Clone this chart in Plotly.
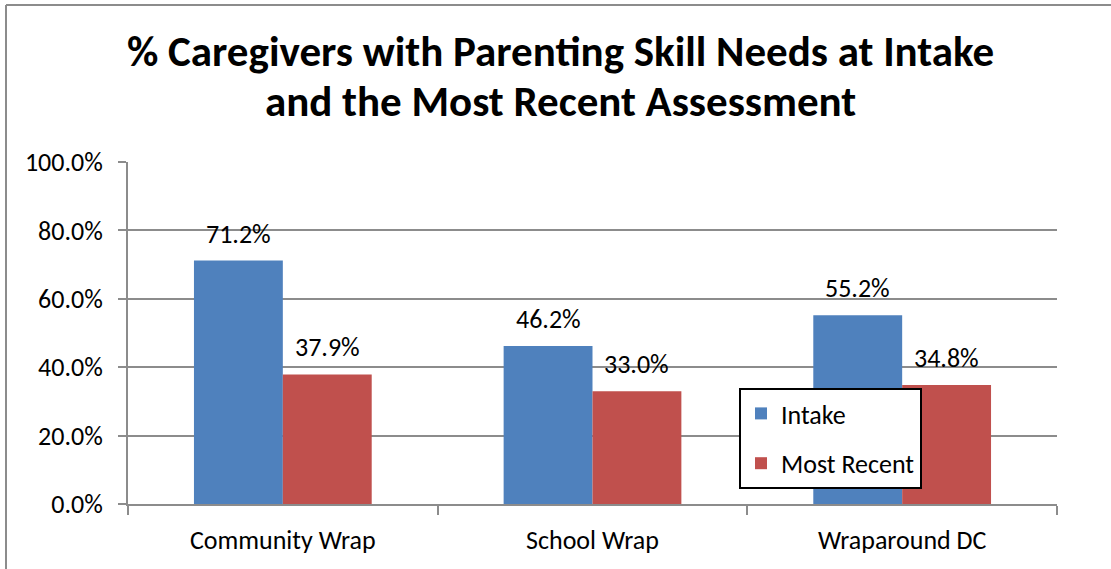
import plotly.graph_objects as go

# Programme groups and the share of caregivers with parenting-skill needs
programs = ["Community Wrap", "School Wrap", "Wraparound DC"]
intake_pct = [71.2, 46.2, 55.2]
recent_pct = [37.9, 33.0, 34.8]
y_ticks = [0, 20, 40, 60, 80, 100]
y_tick_text = [f"{v:.1f}%" for v in y_ticks]
title_lines = ["% Caregivers with Parenting Skill Needs at Intake",
               "and the Most Recent Assessment"]

FONT = "Carlito, Calibri, Lato, sans-serif"
BLUE = "#4F81BD"
RED = "#C0504D"
GRID = "#8C8C8C"
W, H = 1111, 569
L, R, T, B = 128, 54, 162, 65
PW, PH = W - L - R, H - T - B


def px_x(x):
    return (x - L) / PW


def px_y(y):
    return 1 - (y - T) / PH


fig = go.Figure()
fig.add_trace(go.Bar(name="Intake", x=programs, y=intake_pct, legendgroup="a",
                     marker=dict(color=BLUE, line=dict(width=0)), offsetgroup="a"))
fig.add_trace(go.Bar(name="Most Recent", x=programs, y=recent_pct, legendgroup="b",
                     marker=dict(color=RED, line=dict(width=0)), offsetgroup="b"))

# value labels above each bar
for i, (a, b) in enumerate(zip(intake_pct, recent_pct)):
    for val, shift in ((a, -0.143), (b, 0.143)):
        fig.add_annotation(x=i + shift, y=val, xref="x", yref="y",
                           text=f"{val:.1f}%", showarrow=False,
                           yanchor="middle", yshift=27,
                           font=dict(family=FONT, size=26, color="#000000"))

# two-line chart heading
for line, ypix in zip(title_lines, (51, 102)):
    fig.add_annotation(x=px_x(560), y=px_y(ypix), xref="paper", yref="paper",
                       text=f"<b>{line}</b>", showarrow=False,
                       xanchor="center", yanchor="middle",
                       font=dict(family=FONT, size=43, color="#000000"))

fig.update_layout(
    width=W, height=H,
    margin=dict(l=L, r=R, t=T, b=B),
    paper_bgcolor="white", plot_bgcolor="white",
    barmode="group", bargap=0.426, bargroupgap=0,
    font=dict(family=FONT, size=26, color="#000000"),
    showlegend=True,
    legend=dict(x=px_x(739), y=px_y(388), xanchor="left", yanchor="top",
                bgcolor="white", bordercolor="#000000", borderwidth=2,
                font=dict(family=FONT, size=26, color="#000000"),
                traceorder="grouped", tracegroupgap=13, itemwidth=30),
    xaxis=dict(showgrid=False, showline=True, linecolor=GRID, linewidth=2,
               ticks="outside", tickson="boundaries", ticklen=9, tickcolor=GRID, tickwidth=2,
               ticklabelstandoff=12,
               tickfont=dict(family=FONT, size=26, color="#000000")),
    yaxis=dict(range=[0, 100], tickvals=y_ticks, ticktext=y_tick_text,
               showgrid=True, gridcolor=GRID, gridwidth=2,
               showline=True, linecolor=GRID, linewidth=2,
               ticks="outside", ticklen=8, tickcolor=GRID, tickwidth=2,
               zeroline=False, ticklabelstandoff=10,
               tickfont=dict(family=FONT, size=26, color="#000000")),
    shapes=[
        dict(type="line", xref="paper", yref="paper",
             x0=px_x(6), x1=px_x(W) + 0.01, y0=px_y(5), y1=px_y(5),
             line=dict(color=GRID, width=2)),
        dict(type="line", xref="paper", yref="paper",
             x0=px_x(6), x1=px_x(6), y0=px_y(5), y1=px_y(H + 10),
             line=dict(color=GRID, width=2)),
    ],
)

fig.write_html("out.html")
